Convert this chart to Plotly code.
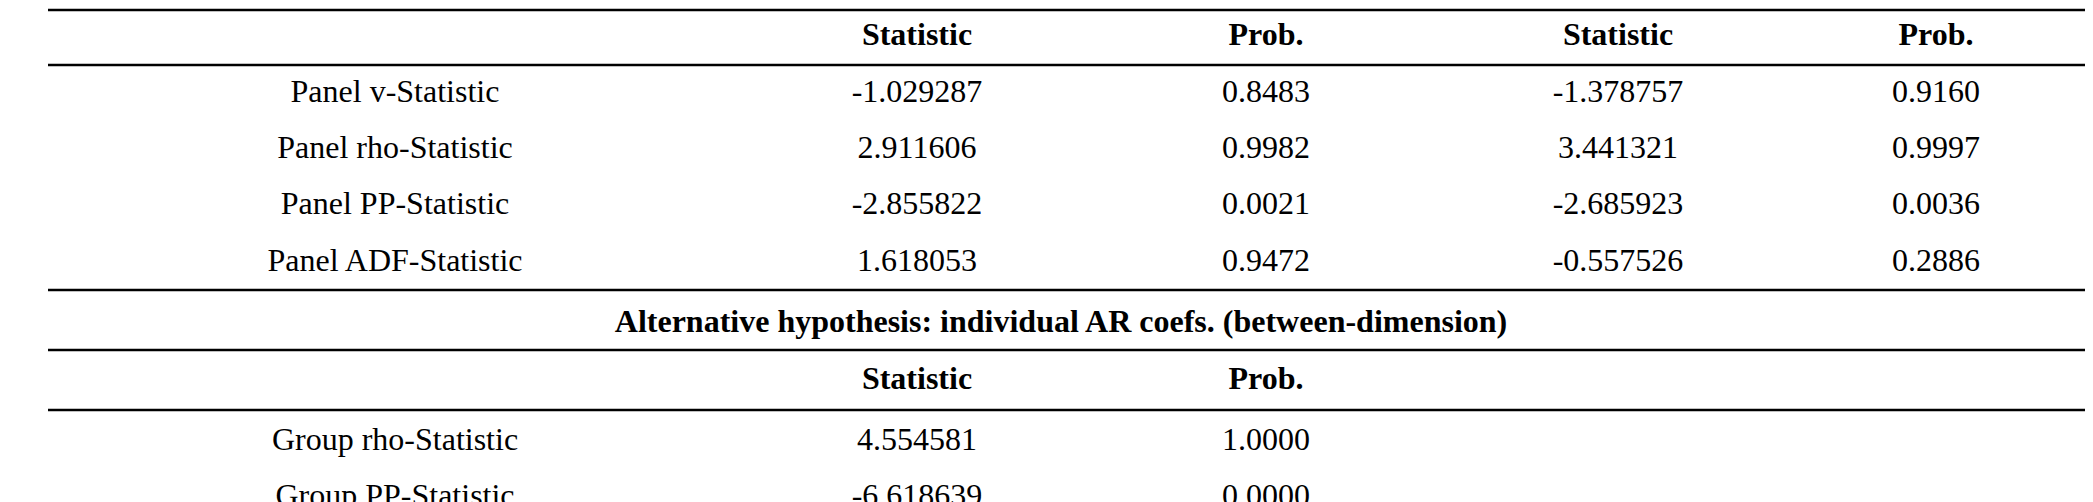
import plotly.graph_objects as go

# Panel statistics (within-dimension)
panel_labels = ["Panel v-Statistic", "Panel rho-Statistic", "Panel PP-Statistic", "Panel ADF-Statistic"]
panel_stat = ["-1.029287", "2.911606", "-2.855822", "1.618053"]
panel_prob = ["0.8483", "0.9982", "0.0021", "0.9472"]
panel_wstat = ["-1.378757", "3.441321", "-2.685923", "-0.557526"]
panel_wprob = ["0.9160", "0.9997", "0.0036", "0.2886"]

# Group statistics (between-dimension)
group_labels = ["Group rho-Statistic", "Group PP-Statistic"]
group_stat = ["4.554581", "-6.618639"]
group_prob = ["1.0000", "0.0000"]

section_title = "Alternative hypothesis: individual AR coefs. (between-dimension)"
header_top = ["Statistic", "Prob.", "Statistic", "Prob."]
header_group = ["Statistic", "Prob."]

W, H = 2093, 502
col_x = [387, 909, 1258, 1610, 1928]
panel_y = [86, 142, 198, 255]
group_y = [434, 490]
FONT = "Liberation Serif"
SIZE = 32

fig = go.Figure()


def add_text(xs, ys, texts, bold=False):
    fig.add_trace(go.Scatter(
        x=xs, y=ys, text=[f"<b>{t}</b>" if bold else t for t in texts],
        mode="text", textposition="middle center",
        textfont=dict(family=FONT, size=SIZE, color="black"),
        hoverinfo="skip", showlegend=False, cliponaxis=True,
    ))


add_text(col_x[1:], [29] * 4, header_top, bold=True)
for i, col in enumerate([panel_labels, panel_stat, panel_prob, panel_wstat, panel_wprob]):
    add_text([col_x[i]] * len(col), panel_y, col)
add_text([1053], [316], [section_title], bold=True)
add_text(col_x[1:3], [373] * 2, header_group, bold=True)
for i, col in enumerate([group_labels, group_stat, group_prob]):
    add_text([col_x[i]] * len(col), group_y, col)

for y in [2, 57, 282, 342, 402]:
    fig.add_shape(type="line", x0=40, x1=2080, y0=y, y1=y,
                  line=dict(color="black", width=2.5))

fig.update_xaxes(range=[0, W], visible=False, fixedrange=True)
fig.update_yaxes(range=[H, 0], visible=False, fixedrange=True)
fig.update_layout(
    width=W, height=H, margin=dict(l=0, r=0, t=0, b=0),
    plot_bgcolor="white", paper_bgcolor="white",
)

fig.write_html("out.html", config={"displayModeBar": False})
